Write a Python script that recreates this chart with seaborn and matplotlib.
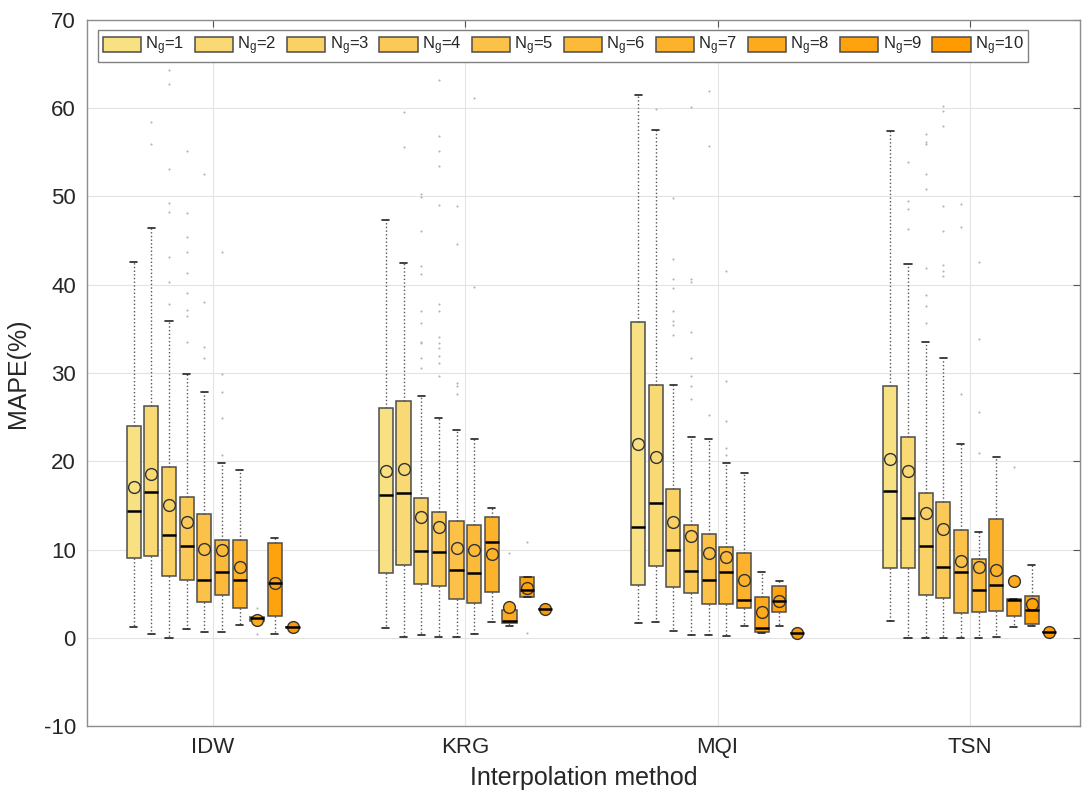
import numpy as np
import pandas as pd
import matplotlib
matplotlib.use("Agg")
import matplotlib.pyplot as plt
import seaborn as sns

sns.set_style("whitegrid")
plt.rcParams['font.family'] = ['Liberation Sans', 'DejaVu Sans']
plt.rcParams['mathtext.default'] = 'regular'
plt.rcParams['axes.unicode_minus'] = False

methods = ["IDW", "KRG", "MQI", "TSN"]
ng_levels = [1, 2, 3, 4, 5, 6, 7, 8, 9, 10]
ng_labels = [r"$\mathregular{N_g}$=%d" % n for n in ng_levels]

# box statistics, one row per method, one column per Ng
whisker_low = [
    [1.25, 0.4, 0.0, 0.95, 0.6, 0.7, 1.4, 1.9, 0.4, 1.2],
    [1.1, 0.05, 0.35, 0.05, 0.05, 0.4, 1.8, 1.3, 4.6, 3.3],
    [1.7, 1.8, 0.8, 0.35, 0.35, 0.15, 1.3, 0.5, 1.3, 0.55],
    [1.9, 0.0, 0.0, 0.0, 0.0, 0.0, 0.1, 1.25, 1.3, 0.7],
]
quart_1 = [
    [9.0, 9.3, 7.0, 6.6, 4.1, 4.9, 3.4, 1.9, 2.45, 1.2],
    [7.3, 8.3, 6.1, 5.9, 4.4, 3.9, 5.2, 1.7, 4.6, 3.3],
    [6.0, 8.1, 5.8, 5.1, 3.8, 3.8, 3.4, 0.7, 2.95, 0.55],
    [7.9, 7.9, 4.9, 4.5, 2.8, 2.9, 3.0, 2.45, 1.6, 0.7],
]
medians = [
    [14.4, 16.5, 11.6, 10.4, 6.6, 7.5, 6.5, 2.2, 6.2, 1.2],
    [16.2, 16.4, 9.85, 9.7, 7.7, 7.3, 10.8, 1.9, 5.4, 3.3],
    [12.6, 15.3, 9.9, 7.6, 6.6, 7.4, 4.3, 1.05, 4.2, 0.55],
    [16.6, 13.6, 10.4, 8.0, 7.4, 5.4, 6.0, 4.3, 3.2, 0.7],
]
quart_3 = [
    [24.0, 26.3, 19.3, 16.0, 14.0, 11.1, 11.1, 2.4, 10.7, 1.2],
    [26.0, 26.8, 15.8, 14.2, 13.2, 12.8, 13.7, 3.1, 6.9, 3.3],
    [35.8, 28.6, 16.8, 12.8, 11.8, 10.3, 9.6, 4.6, 5.85, 0.55],
    [28.5, 22.7, 16.4, 15.4, 12.2, 8.95, 13.4, 4.4, 4.75, 0.7],
]
whisker_high = [
    [42.6, 46.4, 35.9, 29.9, 27.9, 19.75, 19.0, 2.4, 11.3, 1.2],
    [47.3, 42.5, 27.4, 24.9, 23.5, 22.5, 14.7, 3.1, 6.9, 3.3],
    [61.5, 57.5, 28.6, 22.8, 22.5, 19.8, 18.7, 7.5, 6.4, 0.55],
    [57.4, 42.3, 33.5, 31.7, 21.9, 12.0, 20.5, 4.4, 8.2, 0.7],
]
means = [
    [17.1, 18.6, 15.0, 13.1, 10.1, 9.9, 8.0, 2.0, 6.2, 1.2],
    [18.9, 19.1, 13.7, 12.6, 10.2, 10.0, 9.5, 3.5, 5.6, 3.3],
    [22.0, 20.5, 13.1, 11.5, 9.6, 9.2, 6.6, 2.9, 4.2, 0.55],
    [20.2, 18.9, 14.1, 12.3, 8.7, 8.0, 7.7, 6.4, 3.8, 0.7],
]

# outliers as (Ng, value)
idw_outliers = [(2, 58.4), (2, 56.0),
                (3, 64.3), (3, 62.8), (3, 53.1), (3, 49.3), (3, 48.2), (3, 43.2), (3, 40.3), (3, 37.8),
                (4, 55.2), (4, 48.1), (4, 45.4), (4, 43.7), (4, 41.3), (4, 39.1), (4, 37.1), (4, 36.5), (4, 33.5),
                (5, 52.5), (5, 38.1), (5, 33.0), (5, 31.7),
                (6, 43.7), (6, 29.9), (6, 27.8), (6, 24.9), (6, 20.7),
                (8, 3.4), (8, 0.4)]
krg_outliers = [(2, 59.6), (2, 55.6),
                (3, 50.3), (3, 49.9), (3, 46.1), (3, 42.1), (3, 41.2), (3, 37.0), (3, 35.7), (3, 33.5), (3, 33.4),
                (3, 31.7), (3, 30.6),
                (4, 63.2), (4, 56.8), (4, 55.2), (4, 53.5), (4, 49.0), (4, 37.8), (4, 37.0), (4, 34.1), (4, 33.4),
                (4, 32.8), (4, 31.9), (4, 31.1), (4, 29.7),
                (5, 48.9), (5, 44.6), (5, 28.9), (5, 28.5), (5, 27.6),
                (6, 61.2), (6, 39.8),
                (8, 9.6),
                (9, 10.8), (9, 0.5)]
mqi_outliers = [(2, 59.9),
                (3, 49.8), (3, 42.9), (3, 40.7), (3, 39.6), (3, 37.0), (3, 35.9), (3, 35.4), (3, 34.3),
                (4, 60.1), (4, 40.6), (4, 40.3), (4, 34.6), (4, 31.7), (4, 29.7), (4, 28.5), (4, 27.0),
                (5, 62.0), (5, 55.7), (5, 25.2),
                (6, 41.6), (6, 29.1), (6, 24.6), (6, 21.5), (6, 20.7)]
tsn_outliers = [(2, 53.9), (2, 49.5), (2, 48.6), (2, 46.3),
                (3, 57.1), (3, 56.2), (3, 55.9), (3, 52.5), (3, 50.8), (3, 41.9), (3, 38.8), (3, 37.6), (3, 35.7),
                (4, 60.2), (4, 59.7), (4, 58.0), (4, 48.9), (4, 46.1), (4, 42.2), (4, 41.6), (4, 41.0),
                (5, 49.2), (5, 46.6), (5, 27.6),
                (6, 42.6), (6, 33.9), (6, 25.6), (6, 20.9),
                (8, 19.4)]

colors = ["#F7E182", "#F8D974", "#F9D165", "#FAC957", "#FBC148",
          "#FBBA3A", "#FCB22B", "#FDAA1D", "#FEA20E", "#FF9A00"]

# long tables
box_rows = []
mean_rows = []
for i, m in enumerate(methods):
    for j, lab in enumerate(ng_labels):
        for stat in (whisker_low, quart_1, medians, quart_3, whisker_high):
            box_rows.append((m, lab, stat[i][j]))
        mean_rows.append((m, lab, means[i][j]))
box_df = pd.DataFrame(box_rows, columns=["method", "Ng", "value"])
mean_df = pd.DataFrame(mean_rows, columns=["method", "Ng", "value"])

out_rows = []
for m, lst in zip(methods, [idw_outliers, krg_outliers, mqi_outliers, tsn_outliers]):
    for ng, v in lst:
        out_rows.append((m, ng_labels[ng - 1], v))
out_df = pd.DataFrame(out_rows, columns=["method", "Ng", "value"])
out_df["rank"] = out_df.groupby(["method", "Ng"]).cumcount()

fig = plt.figure(figsize=(10.91, 8.01), dpi=100)
ax = fig.add_axes([87 / 1091, 75 / 801, 993 / 1091, 706 / 801])

group_width = 0.7
sns.boxplot(data=box_df, x="method", y="value", hue="Ng", order=methods, hue_order=ng_labels,
            palette=colors, saturation=1, width=group_width, gap=0.2, whis=(0, 100), showfliers=False,
            linecolor="#4d4d4d", linewidth=1.1,
            medianprops=dict(color="black", linewidth=1.8),
            whiskerprops=dict(linestyle=":", color="#555555", linewidth=1.0),
            capprops=dict(color="#222222", linewidth=1.2),
            ax=ax)

dodge = group_width * (len(ng_labels) - 1) / len(ng_labels)
for r in sorted(out_df["rank"].unique()):
    sns.pointplot(data=out_df[out_df["rank"] == r], x="method", y="value", hue="Ng",
                  order=methods, hue_order=ng_labels, palette=["#b3b3b3"] * 10,
                  dodge=dodge, errorbar=None, markers="o", linestyles="none",
                  markersize=1.5, markeredgewidth=0, legend=False, ax=ax)

sns.pointplot(data=mean_df, x="method", y="value", hue="Ng", order=methods, hue_order=ng_labels,
              palette=colors, dodge=dodge, errorbar=None, markers="o", linestyles="none",
              markersize=8.5, markeredgecolor="#333333", markeredgewidth=1.0,
              legend=False, ax=ax)

ax.set_xlim(-0.5, 3.437)
ax.set_ylim(-10, 70)
ax.set_yticks(np.arange(-10, 71, 10))
ax.grid(True, color="#e3e3e3", linewidth=0.8)
ax.set_axisbelow(True)
for s in ax.spines.values():
    s.set_color("#8c8c8c")
    s.set_linewidth(1.0)
ax.tick_params(direction="in", length=5, width=0.8, top=True, right=True,
               labelsize=16, colors="#262626", pad=8)
ax.tick_params(color="#555555")
ax.set_xlabel("Interpolation method", fontsize=18, color="#262626", labelpad=6)
ax.set_ylabel("MAPE(%)", fontsize=18, color="#262626", labelpad=10)

sns.move_legend(ax, "upper left", bbox_to_anchor=(0.011, 0.986), ncol=10, title=None,
                frameon=True, fontsize=12, handlelength=2.3, handleheight=1.0,
                columnspacing=0.62, handletextpad=0.25, borderpad=0.3, borderaxespad=0,
                fancybox=False, edgecolor="#808080", framealpha=1)

fig.savefig("out.png", dpi=100)
